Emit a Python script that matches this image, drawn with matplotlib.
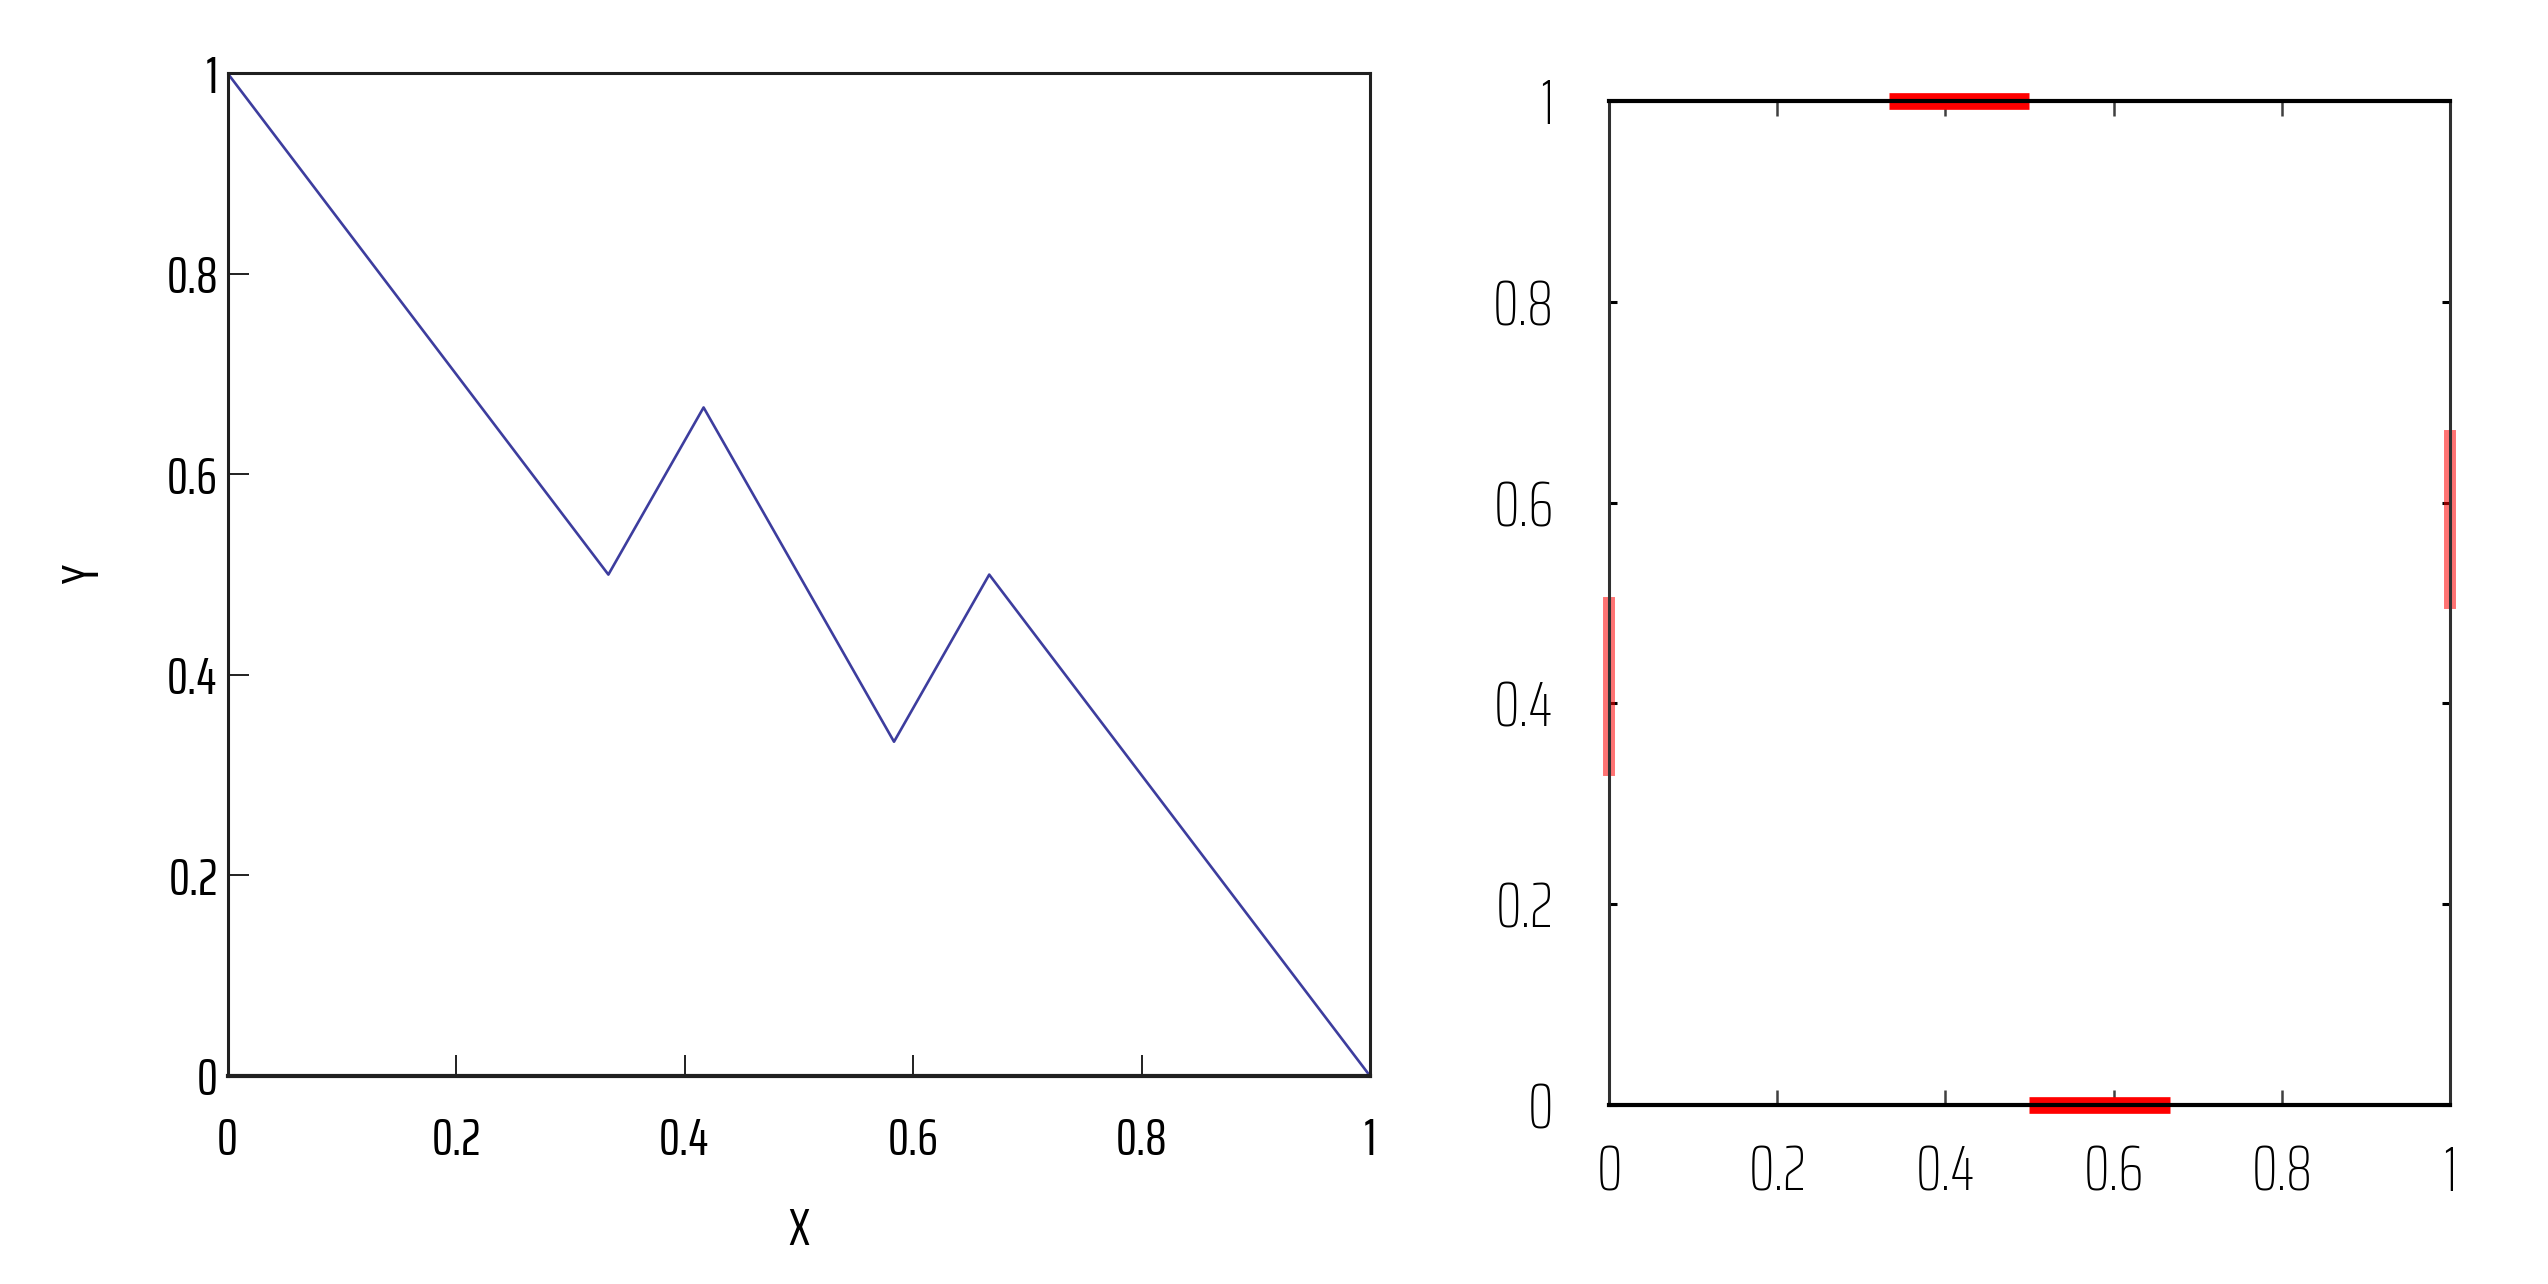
import matplotlib
matplotlib.use('Agg')
import matplotlib.pyplot as plt

# ломаная на левом графике
path_x = [0, 1 / 3, 5 / 12, 7 / 12, 2 / 3, 1]
path_y = [1, 0.5, 2 / 3, 1 / 3, 0.5, 0]

# отрезки на границе квадрата (правый график)
top_x = [1 / 3, 0.5]
top_y = [1, 1]
bottom_x = [0.5, 2 / 3]
bottom_y = [0, 0]
left_x = [0, 0]
left_y = [1 / 3, 0.5]
right_x = [1, 1]
right_y = [0.5, 2 / 3]

ticks = [0, 0.2, 0.4, 0.6, 0.8, 1]
tick_labels = ['0', '0.2', '0.4', '0.6', '0.8', '1']

font_left = ['Saira ExtraCondensed', 'DejaVu Sans']
font_right = ['Saira ExtraCondensed', 'DejaVu Sans']

fig = plt.figure(figsize=(25.48, 12.84), dpi=100)

# левый график
ax1 = fig.add_axes([0.0893, 0.162, 0.4484, 0.781])
ax1.plot(path_x, path_y, color='#3d3d9e', lw=1.9)
ax1.set_xlim(0, 1)
ax1.set_ylim(0, 1)
ax1.set_xticks(ticks)
ax1.set_yticks(ticks)
ax1.set_xticklabels(tick_labels, family=font_left, fontsize=38)
ax1.set_yticklabels(tick_labels, family=font_left, fontsize=38)
ax1.tick_params(direction='in', length=15, width=1.4, color='#202020',
                top=False, right=False)
ax1.tick_params(axis='x', pad=29)
ax1.tick_params(axis='y', pad=7)
for s in ax1.spines.values():
    s.set_linewidth(2.2)
    s.set_color('#202020')
ax1.spines['bottom'].set_linewidth(3)
ax1.set_xlabel('X', family=font_left, fontsize=38)
ax1.set_ylabel('Y', family=font_left, fontsize=38)
ax1.xaxis.set_label_coords(0.5, -0.154)
ax1.xaxis.label.set_va('center')
ax1.yaxis.set_label_coords(-0.125, 0.5)
ax1.yaxis.label.set_va('center')

# правый график
ax2 = fig.add_axes([0.6315, 0.1394, 0.330, 0.782])
ax2.plot(top_x, top_y, color='red', lw=12, solid_capstyle='butt', clip_on=False)
ax2.plot(bottom_x, bottom_y, color='red', lw=12, solid_capstyle='butt', clip_on=False)
ax2.plot(left_x, left_y, color='red', lw=8.6, alpha=0.55, solid_capstyle='projecting', clip_on=False)
ax2.plot(right_x, right_y, color='red', lw=8.6, alpha=0.55, solid_capstyle='projecting', clip_on=False)
ax2.set_xlim(0, 1)
ax2.set_ylim(0, 1)
ax2.set_xticks(ticks)
ax2.set_yticks(ticks)
ax2.set_xticklabels(tick_labels, family=font_right, fontsize=46, fontweight=250)
ax2.set_yticklabels(tick_labels, family=font_right, fontsize=46, fontweight=250)
ax2.tick_params(axis='x', direction='in', length=11, width=1.8, color='#404040',
                top=True, bottom=True, pad=28)
ax2.tick_params(axis='y', direction='in', length=6, width=2.2, color='black',
                left=True, right=True, pad=40)
for side in ['left', 'right']:
    ax2.spines[side].set_linewidth(2.2)
    ax2.spines[side].set_color('#303030')
for side in ['top', 'bottom']:
    ax2.spines[side].set_linewidth(3)
    ax2.spines[side].set_color('black')

fig.savefig('out.png', dpi=100)
